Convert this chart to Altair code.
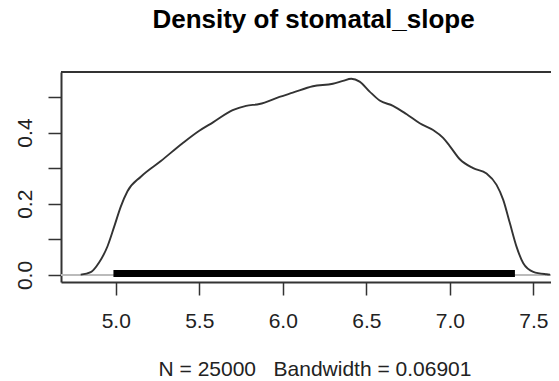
import altair as alt
import pandas as pd

# ---- data ----
density_x = [4.79, 4.85, 4.90, 4.95, 4.99, 5.03, 5.07, 5.15, 5.27, 5.40, 5.50, 5.58,
             5.70, 5.78, 5.86, 5.98, 6.06, 6.18, 6.30, 6.36, 6.41, 6.46, 6.52, 6.58,
             6.66, 6.74, 6.82, 6.90, 6.96, 7.00, 7.06, 7.14, 7.22, 7.28, 7.32, 7.36,
             7.40, 7.44, 7.50, 7.58, 7.60]
density_y = [0.001, 0.008, 0.035, 0.080, 0.135, 0.192, 0.235, 0.276, 0.320, 0.370, 0.405, 0.428,
             0.463, 0.475, 0.480, 0.500, 0.512, 0.530, 0.537, 0.545, 0.551, 0.543, 0.515, 0.490,
             0.475, 0.452, 0.426, 0.407, 0.385, 0.362, 0.325, 0.300, 0.285, 0.253, 0.211, 0.145,
             0.079, 0.033, 0.009, 0.002, 0.001]
rug_start = [4.986]
rug_end = [7.39]
x_ticks = [5.0, 5.5, 6.0, 6.5, 7.0, 7.5]
y_ticks = [0.0, 0.1, 0.2, 0.3, 0.4, 0.5]
title_text = ["Density of stomatal_slope"]
xlab_text = "N = 25000\u00a0\u00a0\u00a0Bandwidth = 0.06901"

W, H = 490, 210
x_dom = [4.672, 7.606]
y_dom = [-0.0197, 0.570]
FONT = "Liberation Sans"
INK = "#333333"

dens = pd.DataFrame({"x": density_x, "y": density_y})
rug = pd.DataFrame({"x": rug_start, "x2": rug_end})
ttl = pd.DataFrame({"t": title_text})

xscale = alt.Scale(domain=x_dom, nice=False, zero=False)
yscale = alt.Scale(domain=y_dom, nice=False, zero=False)

line = alt.Chart(dens).mark_line(
    color=INK, strokeWidth=1.9, interpolate="monotone", clip=True
).encode(
    x=alt.X("x:Q", scale=xscale, axis=alt.Axis(
        values=x_ticks, format=".1f", title=xlab_text,
        labelBaseline="top", labelPadding=15, labelAlign="center",
        titleX=253.5, titleY=93, titleBaseline="alphabetic", titleAlign="center",
        titleFontSize=21, titleFontWeight="normal", titleFont=FONT, titleColor="#222222",
        labelOverlap=False)),
    y=alt.Y("y:Q", scale=yscale, axis=alt.Axis(
        values=y_ticks, title=None,
        labelExpr="round(datum.value*10) % 2 == 0 ? format(datum.value, '.1f') : ''",
        labelAngle=270, labelAlign="center", labelBaseline="middle", labelPadding=23,
        labelOverlap=False)),
)

zero = alt.Chart(dens).mark_rule(color="#bbbbbb", strokeWidth=1).encode(
    x=alt.value(0), x2=alt.value(W), y=alt.datum(0)
)

rugband = alt.Chart(rug).mark_rule(color="black", strokeWidth=7, yOffset=-1.5).encode(
    x="x:Q", x2="x2:Q", y=alt.datum(0)
)

top = alt.Chart(dens).mark_rule(color=INK, strokeWidth=2).encode(
    x=alt.value(0), x2=alt.value(W), y=alt.value(0)
)

title = alt.Chart(ttl).mark_text(
    font=FONT, fontSize=26, fontWeight="bold", color="black",
    align="center", baseline="alphabetic"
).encode(text="t:N", x=alt.value(252.5), y=alt.value(-44))

chart = alt.layer(zero, rugband, line, top, title).properties(
    width=W, height=H,
    autosize=alt.AutoSizeParams(type="none"),
    padding={"left": 53, "top": 64, "right": 0, "bottom": 96},
).configure_view(stroke=None).configure_axis(
    grid=False, domainColor=INK, domainWidth=2, tickColor=INK, tickWidth=1.5,
    tickSize=13, labelFontSize=21, labelFont=FONT, labelColor="#222222",
)

chart.save("out.html", embed_options={"renderer": "svg", "actions": False})
